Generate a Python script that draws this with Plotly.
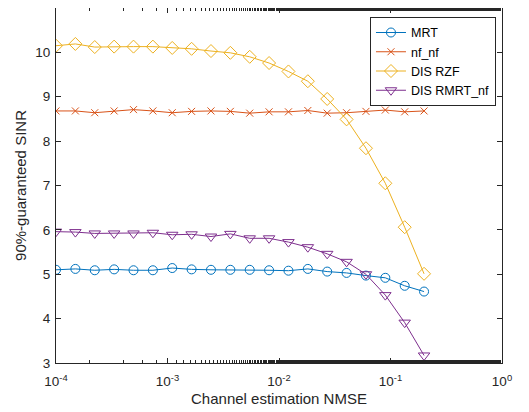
import plotly.graph_objects as go

nmse = [1.0e-4, 1.4922e-4, 2.2264e-4, 3.3218e-4, 4.9566e-4, 7.3956e-4,
        1.1026e-3, 1.6450e-3, 2.4542e-3, 3.6614e-3, 5.4628e-3, 8.150e-3,
        1.2158e-2, 1.8139e-2, 2.7060e-2, 4.0373e-2, 6.0232e-2, 8.9864e-2,
        0.13406, 0.2]

mrt = [5.10, 5.12, 5.09, 5.11, 5.09, 5.09, 5.14, 5.11, 5.10, 5.10,
       5.10, 5.09, 5.08, 5.12, 5.06, 5.03, 4.97, 4.92, 4.74, 4.61]
nf_nf = [8.68, 8.68, 8.64, 8.68, 8.71, 8.68, 8.64, 8.67, 8.68, 8.67,
         8.63, 8.66, 8.66, 8.69, 8.63, 8.64, 8.67, 8.70, 8.66, 8.68]
dis_rzf = [10.15, 10.19, 10.12, 10.13, 10.13, 10.13, 10.10, 10.08, 10.03, 9.99,
           9.90, 9.76, 9.57, 9.35, 8.95, 8.49, 7.84, 7.05, 6.06, 5.01]
dis_rmrt_nf = [5.96, 5.95, 5.92, 5.92, 5.92, 5.935, 5.89, 5.90, 5.85, 5.91,
               5.81, 5.81, 5.725, 5.61, 5.46, 5.28, 5.00, 4.53, 3.91, 3.17]

series_names = ["MRT", "nf_nf", "DIS RZF", "DIS RMRT_nf"]
series_vals = [mrt, nf_nf, dis_rzf, dis_rmrt_nf]
colors = ["#0072BD", "#D95319", "#EDB120", "#7E2F8E"]
symbols = ["circle-open", "x-thin-open", "diamond-open", "triangle-down-open"]
sizes = [9, 7, 10, 10]

x_tickvals = [1e-4, 1e-3, 1e-2, 1e-1, 1e0]
x_ticktext = ["10<sup>-4</sup>", "10<sup>-3</sup>", "10<sup>-2</sup>", "10<sup>-1</sup>", "10<sup>0</sup>"]
y_tickvals = [3, 4, 5, 6, 7, 8, 9, 10, 11]

fig = go.Figure()
for name, vals, c, s, sz in zip(series_names, series_vals, colors, symbols, sizes):
    fig.add_trace(go.Scatter(
        x=nmse, y=vals, name=name, mode="lines+markers",
        line=dict(color=c, width=1),
        marker=dict(symbol=s, size=sz, color=c, line=dict(color=c, width=1)),
    ))

font = "Liberation Sans, Arial, sans-serif"
# page body has an 8px default margin, so the figure is sized to the visible area
fig.update_layout(
    width=521, height=404,
    margin=dict(l=48, r=27, t=0, b=49),
    paper_bgcolor="white", plot_bgcolor="white",
    font=dict(family=font, size=13, color="#262626"),
    showlegend=True,
    legend=dict(
        x=0.9865, y=0.975, xanchor="right", yanchor="top",
        bgcolor="white", bordercolor="#262626", borderwidth=1,
        font=dict(size=12.5, color="#000000"),
        tracegroupgap=0,
    ),
    xaxis=dict(
        type="log", range=[-4, 0],
        tickvals=x_tickvals, ticktext=x_ticktext,
        ticks="inside", ticklen=5, tickcolor="#262626",
        minor=dict(ticks="inside", ticklen=3, tickcolor="#262626", showgrid=False),
        showline=True, linecolor="#262626", linewidth=1, mirror="ticks",
        showgrid=False, zeroline=False,
        ticklabelstandoff=6,
        title=dict(text="Channel estimation NMSE", standoff=5, font=dict(size=15)),
        tickfont=dict(size=13.5),
    ),
    yaxis=dict(
        range=[3, 11], tickvals=y_tickvals,
        ticks="inside", ticklen=5, tickcolor="#262626",
        showline=True, linecolor="#262626", linewidth=1, mirror="ticks",
        showgrid=False, zeroline=False,
        ticklabelstandoff=2,
        title=dict(text="90%-guaranteed SINR", standoff=5, font=dict(size=15)),
        tickfont=dict(size=13.5),
    ),
)

fig.write_html("out.html", config={"displayModeBar": False})
